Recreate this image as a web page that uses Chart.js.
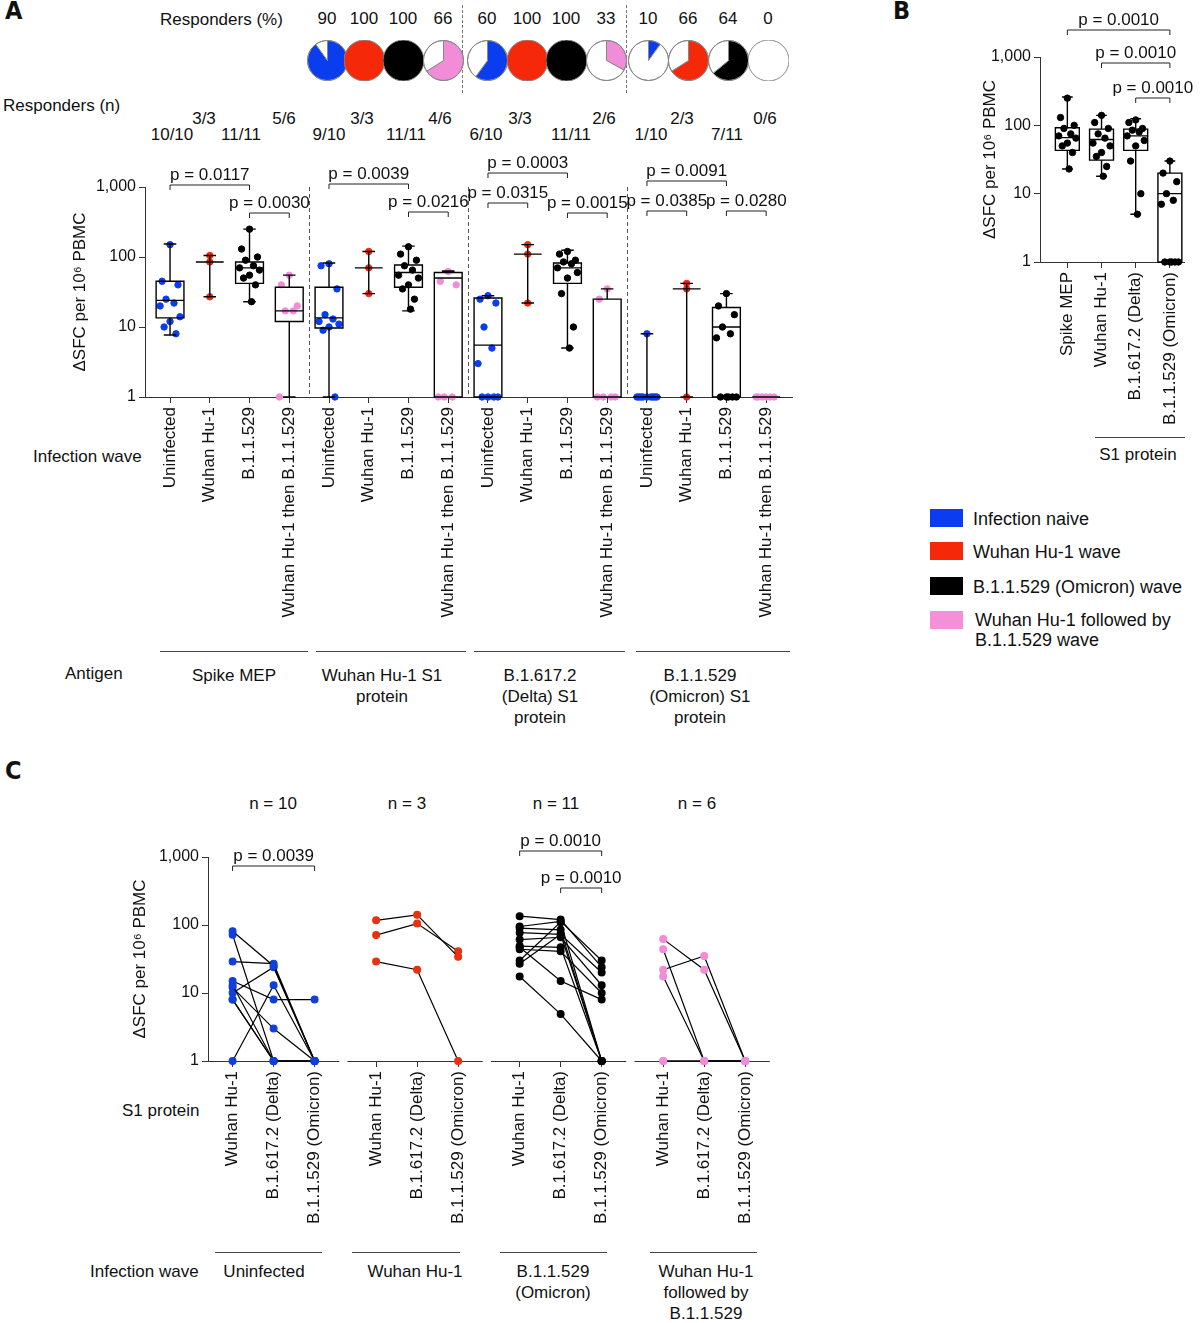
<!DOCTYPE html>
<html>
<head>
<meta charset="utf-8">
<script src="https://cdn.jsdelivr.net/npm/chart.js@4.4.1/dist/chart.umd.min.js"></script>
<style>
  body { margin: 0; width: 1200px; height: 1323px; position: relative; background: #fff;
         font-family: "Liberation Sans", Arial, sans-serif; color: #111; overflow: hidden; }
  .t { position: absolute; font-size: 17px; white-space: nowrap; line-height: 21px; }
  .c { transform: translateX(-50%); text-align: center; }
  .big { font-size: 25px; font-weight: bold; font-family: "DejaVu Sans Condensed", "Liberation Sans", sans-serif; }
  .hl { position: absolute; height: 1px; background: #444; }
  .dash { position: absolute; width: 0; border-left: 1px dashed #777; }
  canvas { position: absolute; }
  .sw { position: absolute; width: 33px; height: 18px; }
</style>
</head>
<body>
<div class="t big" style="left:5px;top:0px">A</div>
<div class="t big" style="left:893px;top:0px">B</div>
<div class="t big" style="left:5px;top:760px">C</div>

<div class="t" style="left:160px;top:9px">Responders (%)</div>
<div class="t" style="left:3px;top:95px">Responders (n)</div>
<div class="dash" style="left:462px;top:5px;height:88px"></div>
<div class="dash" style="left:626px;top:5px;height:88px"></div>
<div id="pct"></div>
<div id="fr"></div>

<div class="t" style="left:33px;top:446px">Infection wave</div>
<div class="t" style="left:65px;top:663px">Antigen</div>
<div class="hl" style="left:160px;top:651px;width:148px"></div>
<div class="hl" style="left:316px;top:651px;width:150px"></div>
<div class="hl" style="left:474px;top:651px;width:151px"></div>
<div class="hl" style="left:636px;top:651px;width:154px"></div>
<div class="t c" style="left:234px;top:665px">Spike MEP</div>
<div class="t c" style="left:382px;top:665px">Wuhan Hu-1 S1<br>protein</div>
<div class="t c" style="left:540px;top:665px">B.1.617.2<br>(Delta) S1<br>protein</div>
<div class="t c" style="left:700px;top:665px">B.1.1.529<br>(Omicron) S1<br>protein</div>

<div class="hl" style="left:1095px;top:437px;width:90px"></div>
<div class="t c" style="left:1138px;top:444px">S1 protein</div>

<div class="sw" style="left:930px;top:509px;background:#0a3cf0"></div>
<div class="t" style="left:973px;top:509px;font-size:18px">Infection naive</div>
<div class="sw" style="left:930px;top:542px;background:#f5280a"></div>
<div class="t" style="left:973px;top:542px;font-size:18px">Wuhan Hu-1 wave</div>
<div class="sw" style="left:930px;top:577px;background:#000"></div>
<div class="t" style="left:973px;top:577px;font-size:18px">B.1.1.529 (Omicron) wave</div>
<div class="sw" style="left:930px;top:611px;background:#f58fd8"></div>
<div class="t" style="left:975px;top:610px;font-size:18px;line-height:20px">Wuhan Hu-1 followed by<br>B.1.1.529 wave</div>

<div class="t c" style="left:273px;top:793px">n = 10</div>
<div class="t c" style="left:407px;top:793px">n = 3</div>
<div class="t c" style="left:556px;top:793px">n = 11</div>
<div class="t c" style="left:697px;top:793px">n = 6</div>
<div class="t" style="left:122px;top:1100px">S1 protein</div>
<div class="t" style="left:90px;top:1261px">Infection wave</div>
<div class="hl" style="left:215px;top:1252px;width:107px"></div>
<div class="hl" style="left:352px;top:1252px;width:108px"></div>
<div class="hl" style="left:500px;top:1252px;width:107px"></div>
<div class="hl" style="left:650px;top:1252px;width:107px"></div>
<div class="t c" style="left:264px;top:1261px">Uninfected</div>
<div class="t c" style="left:415px;top:1261px">Wuhan Hu-1</div>
<div class="t c" style="left:553px;top:1261px">B.1.1.529<br>(Omicron)</div>
<div class="t c" style="left:706px;top:1261px">Wuhan Hu-1<br>followed by<br>B.1.1.529</div>

<canvas id="chartA" width="730" height="530" style="left:70px;top:140px"></canvas>
<canvas id="chartB" width="215" height="440" style="left:980px;top:0px"></canvas>
<canvas id="chartC" width="645" height="430" style="left:130px;top:810px"></canvas>

<script>
// ---- data ----
const waveColors = ['#0a3cf0', '#f5280a', '#000000', '#f08cd8'];
const waveLabels = ['Uninfected', 'Wuhan Hu-1', 'B.1.1.529', 'Wuhan Hu-1 then B.1.1.529'];
const responderPct = [90, 100, 100, 66, 60, 100, 100, 33, 10, 66, 64, 0];
const responderN = ['10/10', '3/3', '11/11', '5/6', '9/10', '3/3', '11/11', '4/6',
                     '6/10', '3/3', '11/11', '2/6', '1/10', '2/3', '7/11', '0/6'];

// panel A: per category (antigen x wave), spot counts, 1 = no response
const pointsA = [
  [150, 45, 40, 25, 22, 20, 14, 12, 10, 8],
  [105, 85, 27],
  [250, 130, 100, 90, 75, 70, 65, 55, 50, 40, 23],
  [55, 40, 20, 17, 17, 1],
  [80, 75, 35, 15, 13, 12, 11, 10, 9, 1],
  [120, 70, 30],
  [140, 110, 90, 75, 65, 55, 50, 40, 35, 25, 18],
  [62, 45, 40, 1, 1, 1],
  [28, 25, 22, 10, 5, 3, 1, 1, 1, 1],
  [150, 110, 22],
  [120, 110, 90, 85, 80, 70, 60, 50, 30, 10, 5],
  [35, 25, 1, 1, 1, 1],
  [8, 1, 1, 1, 1, 1, 1, 1, 1, 1],
  [42, 35, 1],
  [30, 20, 15, 10, 8, 7, 1, 1, 1, 1, 1],
  [1, 1, 1, 1, 1, 1]
];
const lowA  = [7.7, 27, 23, 1, 1, 30, 17, 1, 1, 22, 5, 1, 1, 1, 1, 1];
const q1A   = [13.5, null, 42, 12, 9.7, null, 37, 1, 1, null, 42, 1, 1, null, 1, 1];
const medA  = [24, 85, 70, 17, 13.5, 70, 60, 50, 5.5, 110, 70, 1, 1, 35, 10, 1];
const q3A   = [45, null, 85, 37, 37, null, 77, 60, 26, null, 82, 25, 1, null, 19, 1];
const highA = [153, 105, 250, 55, 82, 120, 143, 63, 28, 150, 125, 35, 8, 42, 30, 1];

// panel B: B.1.1.529 wave, by antigen
const labelsB = ['Spike MEP', 'Wuhan Hu-1', 'B.1.617.2 (Delta)', 'B.1.1.529 (Omicron)'];
const pointsB = [pointsA[2], pointsA[6], pointsA[10], pointsA[14]];
const lowB  = [23, 18, 5, 1];
const q1B   = [43, 31, 43, 1];
const medB  = [66, 62, 70, 10];
const q3B   = [92, 88, 88, 20];
const highB = [260, 140, 125, 30];

// panel C: paired responses [Wuhan Hu-1, Delta, Omicron] per subject
const labelsC = ['Wuhan Hu-1', 'B.1.617.2 (Delta)', 'B.1.1.529 (Omicron)'];
const pairsUninfected = [[81, 25, 1], [72, 1, 1], [29, 27, 1], [15, 8, 8], [13, 1, 1],
                         [12, 3, 1], [10, 24, 1], [8, 1, 1], [8, 1, 1], [1, 13, 1]];
const pairsWuhan = [[117, 141, 34], [71, 105, 41], [29, 22, 1]];
const pairsOmicron = [[135, 120, 24], [95, 113, 30], [90, 85, 1], [77, 73, 20], [61, 66, 13],
                      [49, 47, 1], [44, 41, 10], [30, 110, 1], [27, 73, 1], [17.5, 4.9, 1], [47, 15, 8]];
const pairsBoth = [[62, 22, 1], [22, 35, 1], [44, 1, 1], [17.5, 1, 1], [1, 1, 1], [1, 1, 1]];
const colorsC = ['#1040d8', '#e8320f', '#000000', '#f08cd8'];

// ---- header: pies and counts ----
const pieX = [327, 364, 403, 443, 487, 527, 566, 606, 648, 688, 728, 768];
const fracX = [172, 204, 241, 284, 329, 362, 406, 440, 486, 520, 571, 604, 651, 682, 727, 765];
responderPct.forEach((p, i) => {
  const d = document.createElement('div');
  d.className = 't c'; d.style.left = pieX[i] + 'px'; d.style.top = '8px';
  d.textContent = p; document.getElementById('pct').appendChild(d);
  const cv = document.createElement('canvas');
  cv.width = 41; cv.height = 41;
  cv.style.left = (pieX[i] - 20) + 'px'; cv.style.top = '40px';
  document.body.appendChild(cv);
  new Chart(cv, {
    type: 'pie',
    data: { datasets: [{ data: [p, 100 - p], backgroundColor: [waveColors[i % 4], '#ffffff'],
                         borderColor: '#888', borderWidth: p === 100 || p === 0 ? 0 : 1 }] },
    options: { responsive: false, animation: false, events: [],
               plugins: { legend: { display: false }, tooltip: { enabled: false } } },
    plugins: [{ id: 'ring', afterDraw(c) {
      const a = c.getDatasetMeta(0).data[0];
      c.ctx.save(); c.ctx.strokeStyle = '#888'; c.ctx.lineWidth = 1;
      c.ctx.beginPath(); c.ctx.arc(a.x, a.y, a.outerRadius, 0, Math.PI * 2); c.ctx.stroke();
      c.ctx.restore();
    } }]
  });
});
responderN.forEach((s, i) => {
  const d = document.createElement('div');
  d.className = 't c'; d.style.left = fracX[i] + 'px';
  d.style.top = (i % 2 ? 108 : 124) + 'px';
  d.textContent = s; document.getElementById('fr').appendChild(d);
});

// ---- shared ----
Chart.defaults.font.family = '"Liberation Sans", Arial, sans-serif';
Chart.defaults.font.size = 16;
Chart.defaults.color = '#111';

function logAxis(width, title) {
  return {
    type: 'logarithmic', min: 1, max: 1000,
    afterBuildTicks: s => { s.ticks = [1, 10, 100, 1000].map(v => ({ value: v })); },
    afterFit: s => { s.width = width; },
    ticks: { callback: v => v.toLocaleString('en-US'), font: { size: 16 }, padding: 3 },
    grid: { drawOnChartArea: false, tickLength: 6, color: '#333' },
    border: { color: '#333' },
    title: { display: true, text: title, font: { size: 17 }, padding: 0 }
  };
}

const jitterPattern = [0, -0.2, 0.2, -0.1, 0.1, -0.25, 0.25, 0, -0.15, 0.15, 0.05];
function jitter(n, k) {
  if (n <= 3) return 0;
  return jitterPattern[k % jitterPattern.length];
}

const boxPlugin = {
  id: 'boxes',
  afterDatasetsDraw(c, args, o) {
    if (!o.med) return;
    const ctx = c.ctx, x = c.scales.x, y = c.scales.y;
    const half = (x.getPixelForValue(0.35) - x.getPixelForValue(0));
    const cap = half * 0.45;
    ctx.save(); ctx.strokeStyle = '#000'; ctx.lineWidth = 1.4;
    o.med.forEach((m, i) => {
      const cx = x.getPixelForValue(i);
      const yl = y.getPixelForValue(o.low[i]), yh = y.getPixelForValue(o.high[i]);
      const ym = y.getPixelForValue(m);
      ctx.beginPath();
      if (o.q1[i] === null) {
        ctx.moveTo(cx, yl); ctx.lineTo(cx, yh);
        ctx.moveTo(cx - cap, yl); ctx.lineTo(cx + cap, yl);
        ctx.moveTo(cx - cap, yh); ctx.lineTo(cx + cap, yh);
        ctx.moveTo(cx - half, ym); ctx.lineTo(cx + half, ym);
        ctx.stroke();
        return;
      }
      const y1 = y.getPixelForValue(o.q1[i]), y3 = y.getPixelForValue(o.q3[i]);
      ctx.moveTo(cx, yl); ctx.lineTo(cx, y1);
      ctx.moveTo(cx, y3); ctx.lineTo(cx, yh);
      ctx.moveTo(cx - cap, yh); ctx.lineTo(cx + cap, yh);
      ctx.moveTo(cx - cap, yl); ctx.lineTo(cx + cap, yl);
      ctx.rect(cx - half, y3, half * 2, y1 - y3);
      ctx.moveTo(cx - half, ym); ctx.lineTo(cx + half, ym);
      ctx.stroke();
    });
    ctx.restore();
  }
};

const bracketPlugin = {
  id: 'brackets',
  afterDraw(c, args, o) {
    if (!o.list) return;
    const ctx = c.ctx, x = c.scales.x;
    ctx.save(); ctx.strokeStyle = '#222'; ctx.lineWidth = 1; ctx.fillStyle = '#111';
    ctx.font = '17px "Liberation Sans", Arial, sans-serif';
    ctx.textAlign = 'center'; ctx.textBaseline = 'bottom';
    o.list.forEach(([a, b, yy, txt]) => {
      const xa = x.getPixelForValue(a), xb = x.getPixelForValue(b);
      ctx.beginPath();
      ctx.moveTo(xa, yy + 5); ctx.lineTo(xa, yy); ctx.lineTo(xb, yy); ctx.lineTo(xb, yy + 5);
      ctx.stroke();
      ctx.fillText(txt, (xa + xb) / 2, yy - 1);
    });
    ctx.restore();
  }
};

function scatterSets(points, colors, xs) {
  return points.map((arr, i) => ({
    type: 'scatter',
    data: arr.map((v, k) => ({ x: xs[i] + jitter(arr.length, k), y: v })),
    backgroundColor: colors[i], borderColor: colors[i], pointRadius: 3.2, clip: false
  }));
}

// ---- panel A ----
const xsA = pointsA.map((_, i) => i);
const colA = pointsA.map((_, i) => waveColors[i % 4]);
new Chart(document.getElementById('chartA'), {
  type: 'scatter',
  data: { datasets: scatterSets(pointsA, colA, xsA) },
  options: {
    responsive: false, animation: false, events: [],
    layout: { padding: { top: 47, right: 8 } },
    scales: {
      x: {
        type: 'linear', min: -0.63, max: 15.65,
        afterBuildTicks: s => { s.ticks = xsA.map(v => ({ value: v })); },
        afterFit: s => { s.height = 273; },
        ticks: { callback: v => waveLabels[v % 4], minRotation: 90, maxRotation: 90,
                 font: { size: 17 }, padding: 4 },
        grid: { drawOnChartArea: false, tickLength: 6, color: '#333' },
        border: { color: '#333' }
      },
      y: logAxis(75, 'ΔSFC per 10⁶ PBMC')
    },
    plugins: {
      legend: { display: false }, tooltip: { enabled: false },
      boxes: { low: lowA, q1: q1A, med: medA, q3: q3A, high: highA },
      brackets: { list: [
        [0, 2, 45, 'p = 0.0117'], [2, 3, 73, 'p = 0.0030'],
        [4, 6, 44, 'p = 0.0039'], [6, 7, 72, 'p = 0.0216'],
        [8, 10, 33, 'p = 0.0003'], [8, 9, 63, 'p = 0.0315'], [10, 11, 73, 'p = 0.0015'],
        [12, 14, 41, 'p = 0.0091'], [12, 13, 71, 'p = 0.0385'], [14, 15, 71, 'p = 0.0280']
      ] }
    }
  },
  plugins: [boxPlugin, bracketPlugin, {
    id: 'separators',
    afterDraw(c) {
      const ctx = c.ctx, x = c.scales.x, a = c.chartArea;
      ctx.save(); ctx.strokeStyle = '#555'; ctx.setLineDash([4, 3]); ctx.lineWidth = 1;
      [3.5, 7.5, 11.5].forEach(v => {
        const px = Math.round(x.getPixelForValue(v)) + 0.5;
        ctx.beginPath(); ctx.moveTo(px, a.top); ctx.lineTo(px, a.bottom); ctx.stroke();
      });
      ctx.restore();
    }
  }]
});

// ---- panel B ----
const xsB = labelsB.map((_, i) => i);
new Chart(document.getElementById('chartB'), {
  type: 'scatter',
  data: { datasets: scatterSets(pointsB, ['#000', '#000', '#000', '#000'], xsB) },
  options: {
    responsive: false, animation: false, events: [],
    layout: { padding: { top: 57, right: 7 } },
    scales: {
      x: {
        type: 'linear', min: -0.8, max: 3.43,
        afterBuildTicks: s => { s.ticks = xsB.map(v => ({ value: v })); },
        afterFit: s => { s.height = 178; },
        ticks: { callback: v => labelsB[v], minRotation: 90, maxRotation: 90,
                 font: { size: 17 }, padding: 4 },
        grid: { drawOnChartArea: false, tickLength: 6, color: '#333' },
        border: { color: '#333' }
      },
      y: logAxis(60, 'ΔSFC per 10⁶ PBMC')
    },
    plugins: {
      legend: { display: false }, tooltip: { enabled: false },
      boxes: { low: lowB, q1: q1B, med: medB, q3: q3B, high: highB },
      brackets: { list: [[0, 3, 30, 'p = 0.0010'], [1, 3, 63, 'p = 0.0010'], [2, 3, 98, 'p = 0.0010']] }
    }
  },
  plugins: [boxPlugin, bracketPlugin]
});

// ---- panel C ----
const groupsC = [pairsUninfected, pairsWuhan, pairsOmicron, pairsBoth];
const xsC = [];
groupsC.forEach((_, g) => labelsC.forEach((_, j) => xsC.push(g * 3.5 + j)));
const setsC = [];
groupsC.forEach((pairs, g) => {
  pairs.forEach(p => {
    setsC.push({
      type: 'line',
      data: p.map((v, j) => ({ x: g * 3.5 + j, y: v })),
      borderColor: '#000', borderWidth: 1.2, backgroundColor: colorsC[g],
      pointBackgroundColor: colorsC[g], pointBorderColor: colorsC[g],
      pointRadius: 3.4, clip: false, tension: 0
    });
  });
});
new Chart(document.getElementById('chartC'), {
  type: 'line',
  data: { datasets: setsC },
  options: {
    responsive: false, animation: false, events: [],
    layout: { padding: { top: 47, right: 5 } },
    scales: {
      x: {
        type: 'linear', min: -0.6, max: 13.1,
        afterBuildTicks: s => { s.ticks = xsC.map(v => ({ value: v })); },
        afterFit: s => { s.height = 179; },
        ticks: { callback: v => labelsC[Math.round((v % 3.5) * 2) / 2], minRotation: 90, maxRotation: 90,
                 font: { size: 17 }, padding: 4 },
        grid: { drawOnChartArea: false, tickLength: 6, color: '#333' },
        border: { display: false }
      },
      y: logAxis(78, 'ΔSFC per 10⁶ PBMC')
    },
    plugins: {
      legend: { display: false }, tooltip: { enabled: false },
      brackets: { list: [[0, 2, 56, 'p = 0.0039'], [7, 9, 41, 'p = 0.0010'], [8, 9, 78, 'p = 0.0010']] }
    }
  },
  plugins: [bracketPlugin, {
    id: 'brokenAxis',
    beforeDatasetsDraw(c) {
      const ctx = c.ctx, x = c.scales.x, yb = c.chartArea.bottom + 0.5;
      ctx.save(); ctx.strokeStyle = '#333'; ctx.lineWidth = 1;
      groupsC.forEach((_, g) => {
        ctx.beginPath();
        ctx.moveTo(g === 0 ? c.chartArea.left : x.getPixelForValue(g * 3.5 - 0.7), yb);
        ctx.lineTo(x.getPixelForValue(g * 3.5 + 2.6), yb);
        ctx.stroke();
      });
      ctx.restore();
    }
  }]
});
</script>
</body>
</html>
